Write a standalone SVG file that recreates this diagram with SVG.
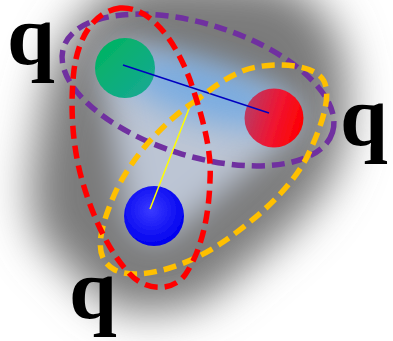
<svg xmlns="http://www.w3.org/2000/svg" width="393" height="341" viewBox="0 0 393 341">
  <defs>
    <filter id="blurBig" x="-50%" y="-50%" width="200%" height="200%"><feGaussianBlur stdDeviation="22"/></filter>
    <filter id="blurMid" x="-50%" y="-50%" width="200%" height="200%"><feGaussianBlur stdDeviation="16"/></filter>
    <filter id="blurSoft" x="-20%" y="-20%" width="140%" height="140%"><feGaussianBlur stdDeviation="0.6"/></filter>
    <linearGradient id="gGreen" x1="0" y1="0" x2="1" y2="1">
      <stop offset="0" stop-color="#00b45c"/>
      <stop offset="1" stop-color="#18a898"/>
    </linearGradient>
    <linearGradient id="gRed" x1="0" y1="0.3" x2="1" y2="0.6">
      <stop offset="0" stop-color="#b83c66"/>
      <stop offset="0.55" stop-color="#f01430"/>
      <stop offset="1" stop-color="#ff0000"/>
    </linearGradient>
    <radialGradient id="gBlue" cx="0.45" cy="0.4" r="0.6">
      <stop offset="0" stop-color="#3a3aff"/>
      <stop offset="1" stop-color="#0000ee"/>
    </radialGradient>
  </defs>
  <style>
    .loop { fill: none; stroke-width: 5.5; stroke-dasharray: 13 7; }
    .q { font-family: "Liberation Serif", "Times New Roman", serif; font-weight: bold; font-size: 86px; fill: #000; }
  </style>

  <rect width="393" height="341" fill="#ffffff"/>

  <!-- background glow -->
  <g id="background">
    <path d="M 42 110 C 48 50, 95 -25, 165 -25 L 260 -20 C 320 -15, 352 40, 348 110 C 346 160, 330 190, 290 230 L 220 290 C 190 315, 130 320, 100 300 L 45 245 C 20 215, 34 150, 42 110 Z" fill="#7a7a7a" filter="url(#blurBig)"/>
    <polygon points="125,68 274,118 154,216" fill="#bcc5d4" stroke="#bcc5d4" stroke-width="50" stroke-linejoin="round" filter="url(#blurMid)"/>
    <ellipse cx="205" cy="92" rx="85" ry="28" transform="rotate(17 205 92)" fill="#6ea8e4" opacity="0.85" filter="url(#blurMid)"/>
  </g>

  <!-- quarks -->
  <g id="quark-green"><circle cx="125" cy="68" r="30" fill="url(#gGreen)" filter="url(#blurSoft)"/></g>
  <g id="quark-red"><circle cx="274" cy="118" r="29.5" fill="url(#gRed)" filter="url(#blurSoft)"/></g>
  <g id="quark-blue"><circle cx="154" cy="216" r="30" fill="url(#gBlue)" filter="url(#blurSoft)"/></g>

  <!-- connectors -->
  <g id="connectors">
    <line x1="123" y1="65" x2="269" y2="113" stroke="#0000c0" stroke-width="1.5"/>
    <line x1="150" y1="209" x2="192" y2="101" stroke="#ffff00" stroke-width="1.5"/>
    <ellipse id="loop-purple" class="loop" stroke="#7030a0" cx="198" cy="90" rx="141" ry="66" transform="rotate(17.5 198 90)"/>
    <path id="loop-yellow" class="loop" stroke="#ffc000" d="M 197 100 C 165 120, 128 160, 112 200 C 100 230, 92 258, 115 270 C 140 282, 190 265, 223 242 C 255 220, 290 190, 307 157 C 320 130, 336 90, 320 76 C 305 62, 262 62, 240 72 C 222 80, 210 90, 197 100 Z"/>
    <path id="loop-red" class="loop" stroke="#ff0000" d="M 120 8 C 150 6, 175 40, 190 80 C 202 115, 212 150, 210 180 C 209 215, 202 250, 185 275 C 172 292, 145 292, 128 272 C 108 250, 92 215, 82 180 C 72 145, 70 105, 74 70 C 78 40, 92 12, 120 8 Z"/>
  </g>

  <!-- labels -->
  <g id="labels">
    <text class="q" x="7" y="64">q</text>
    <text class="q" x="340" y="145">q</text>
    <text class="q" x="69" y="318">q</text>
  </g>
</svg>
